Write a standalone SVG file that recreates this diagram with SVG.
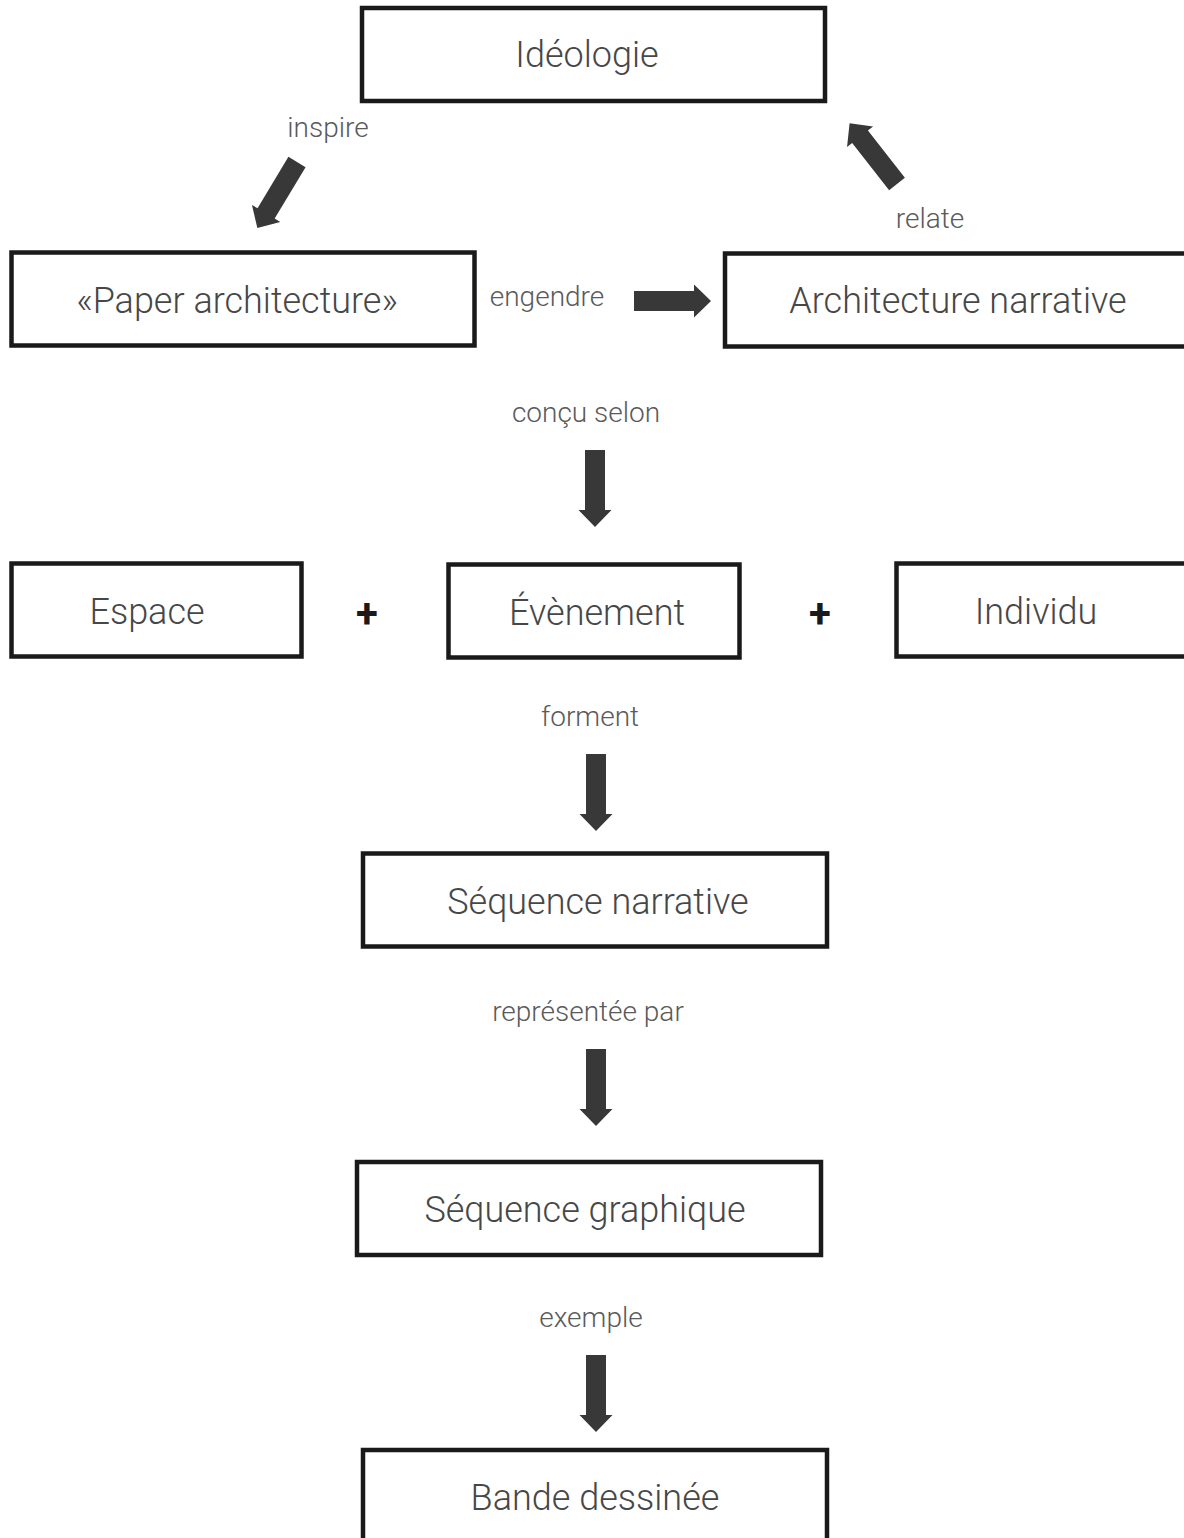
<svg xmlns="http://www.w3.org/2000/svg" width="1184" height="1538" viewBox="0 0 1184 1538">
<defs>
<style>
.box{fill:#fff;stroke:#1a1a1a;stroke-width:4.5}
.t{font-family:"Roboto Light",Roboto,"Noto Sans",sans-serif;font-weight:300;font-size:36px;fill:#474747;text-anchor:middle}
.l{font-family:"Roboto Light",Roboto,"Noto Sans",sans-serif;font-weight:300;font-size:28px;fill:#5a5a5a;text-anchor:middle}
.plus{font-family:Roboto,"Liberation Sans",sans-serif;font-weight:700;font-size:40px;fill:#1a1a1a;text-anchor:middle}
.arr{fill:#383838}
</style>
<polygon id="a" points="-10,0 10,0 10,60 16.5,60 0,77 -16.5,60 -10,60"/>
</defs>
<rect width="1184" height="1538" fill="#fff"/>
<g id="ideologie"><rect class="box" x="362" y="8" width="463" height="93"/><text class="t" x="587" y="67">Idéologie</text></g>
<g id="paper"><rect class="box" x="11.5" y="252.5" width="463" height="93"/><text class="t" x="237" y="313">«Paper architecture»</text></g>
<g id="archnarr"><rect class="box" x="725" y="253.5" width="470" height="93"/><text class="t" x="958" y="313">Architecture narrative</text></g>
<g id="espace"><rect class="box" x="11.5" y="563.5" width="290" height="93"/><text class="t" x="147" y="624">Espace</text></g>
<g id="evenement"><rect class="box" x="448.5" y="564.5" width="291" height="93"/><text class="t" x="597" y="625">Évènement</text></g>
<g id="individu"><rect class="box" x="896.5" y="563.5" width="300" height="93"/><text class="t" x="1036" y="624">Individu</text></g>
<g id="seqnarr"><rect class="box" x="363" y="853.5" width="464" height="93"/><text class="t" x="598" y="914">Séquence narrative</text></g>
<g id="seqgraph"><rect class="box" x="357" y="1162" width="464" height="93"/><text class="t" x="585" y="1222">Séquence graphique</text></g>
<g id="bd"><rect class="box" x="363" y="1450" width="464" height="100"/><text class="t" x="595" y="1510">Bande dessinée</text></g>
<g id="plus1"><text class="plus" x="367" y="627">+</text></g>
<g id="plus2"><text class="plus" x="820" y="627">+</text></g>
<g id="connectors">
<use href="#a" class="arr" transform="translate(297,162) rotate(31)"/>
<use href="#a" class="arr" transform="translate(897,184) rotate(142)"/>
<use href="#a" class="arr" transform="translate(634,301) rotate(-90)"/>
<use href="#a" class="arr" transform="translate(595,450)"/>
<use href="#a" class="arr" transform="translate(596,754)"/>
<use href="#a" class="arr" transform="translate(596,1049)"/>
<use href="#a" class="arr" transform="translate(596,1355)"/>
<text class="l" x="328" y="137">inspire</text>
<text class="l" x="930" y="228">relate</text>
<text class="l" x="547" y="306">engendre</text>
<text class="l" x="586" y="422">conçu selon</text>
<text class="l" x="590" y="726">forment</text>
<text class="l" x="588" y="1021">représentée par</text>
<text class="l" x="591" y="1327">exemple</text>
</g>
</svg>
